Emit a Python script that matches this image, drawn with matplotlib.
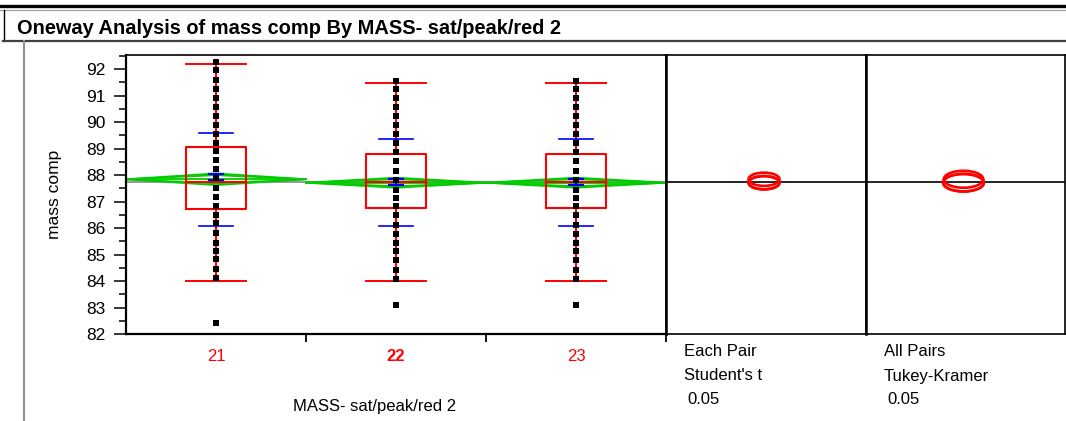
import numpy as np
import matplotlib
matplotlib.use("Agg")
import matplotlib.pyplot as plt
from matplotlib.patches import Ellipse
from matplotlib.lines import Line2D

plt.rcParams['font.family'] = ['Liberation Sans', 'DejaVu Sans']

# Data

GROUPS = ["21", "22", "23"]

pts_21 = [92.28, 91.96, 91.58, 91.23, 90.89, 90.58, 90.24, 89.89, 89.55, 89.20,
          88.92, 88.57, 88.21, 87.87, 87.50, 87.16, 86.84, 86.51, 86.18, 85.80,
          85.45, 85.14, 84.82, 84.45, 84.10, 82.40]
pts_22 = [91.56, 91.23, 90.92, 90.58, 90.23, 89.87, 89.54, 89.20, 88.88, 88.54,
          88.16, 87.81, 87.43, 87.12, 86.84, 86.48, 86.11, 85.77, 85.42, 85.13,
          84.79, 84.43, 84.08, 83.08]
pts_23 = [91.56, 91.23, 90.92, 90.58, 90.23, 89.87, 89.54, 89.20, 88.88, 88.54,
          88.16, 87.81, 87.43, 87.12, 86.84, 86.48, 86.11, 85.77, 85.42, 85.13,
          84.79, 84.43, 84.08, 83.08]

q1      = [86.73, 86.74, 86.74]
median  = [87.72, 87.72, 87.72]
q3      = [89.07, 88.78, 88.78]
wlo     = [84.00, 84.00, 84.00]
whi     = [92.18, 91.48, 91.48]

means   = [87.84, 87.71, 87.71]
ci_lo   = [87.62, 87.52, 87.52]
ci_hi   = [88.06, 87.90, 87.90]
sd_lo   = [86.08, 86.08, 86.08]
sd_hi   = [89.60, 89.37, 89.37]
se_lo   = [87.80, 87.62, 87.62]
se_hi   = [88.03, 87.85, 87.85]

GRAND_MEAN = 87.72

student_r = [0.25, 0.25, 0.25]
tukey_r   = [0.32, 0.33, 0.33]

# Layout helpers (pixels -> figure fraction)

W, H = 1066, 421

def fx(x):
    return x / W

def fy(y):
    return 1 - y / H

def rect(x0, y0, x1, y1):
    return [fx(x0), fy(y1), (x1 - x0) / W, (y1 - y0) / H]

RED, GREEN, BLUE = "#ff0000", "#00cc00", "#0000ff"

fig = plt.figure(figsize=(W / 100, H / 100), dpi=100)

# header decoration
fig.add_artist(Line2D([0, 1], [fy(5.8), fy(5.8)], color="black", lw=2.4))
fig.add_artist(Line2D([0, 1], [fy(9.8), fy(9.8)], color="#a0a0a0", lw=0.9))
fig.add_artist(Line2D([fx(3.5), fx(3.5)], [fy(10), fy(41)], color="black", lw=1.0))
fig.add_artist(Line2D([fx(3), 1], [fy(41), fy(41)], color="#404040", lw=1.6))
fig.add_artist(Line2D([fx(23.5), fx(23.5)], [fy(41), 0], color="#909090", lw=1.5))
fig.text(fx(17), fy(28.5), "Oneway Analysis of mass comp By MASS- sat/peak/red 2",
         fontsize=14.4, fontweight="bold", va="center", ha="left")

# main panel
ax = fig.add_axes(rect(126, 55, 666, 334))
ylim = (82, 92.53)

ax.axhline(GRAND_MEAN, color="#909090", lw=1.3, zorder=1)

all_pts = [pts_21, pts_22, pts_23]
for i in range(3):
    xc = i + 0.5
    # means diamond + overlap marks
    ax.plot([xc - 0.5, xc, xc + 0.5, xc, xc - 0.5],
            [means[i], ci_hi[i], means[i], ci_lo[i], means[i]],
            color=GREEN, lw=1.3, zorder=2)
    ov = (ci_hi[i] - ci_lo[i]) / 2 / np.sqrt(2)
    ax.plot([xc - 0.5, xc, xc + 0.5, xc, xc - 0.5],
            [means[i], means[i] + ov, means[i], means[i] - ov, means[i]],
            color=GREEN, lw=1.3, zorder=2)
    ax.plot([xc - 0.5, xc + 0.5], [means[i], means[i]], color=GREEN, lw=1.3, zorder=2)

    # box plot
    bw = 1 / 6
    ax.plot([xc - bw, xc + bw, xc + bw, xc - bw, xc - bw],
            [q1[i], q1[i], q3[i], q3[i], q1[i]], color=RED, lw=1.5, zorder=3)
    ax.plot([xc - bw, xc + bw], [median[i], median[i]], color=RED, lw=1.5, zorder=3)
    ax.plot([xc, xc], [wlo[i], q1[i]], color=RED, lw=1.6, zorder=3)
    ax.plot([xc, xc], [q3[i], whi[i]], color=RED, lw=1.6, zorder=3)
    ax.plot([xc - bw, xc + bw], [wlo[i], wlo[i]], color=RED, lw=1.4, zorder=3)
    ax.plot([xc - bw, xc + bw], [whi[i], whi[i]], color=RED, lw=1.4, zorder=3)

    # std dev lines and mean error bars
    sw = 0.096
    ax.plot([xc - sw, xc + sw], [sd_lo[i], sd_lo[i]], color=BLUE, lw=1.2, zorder=4)
    ax.plot([xc - sw, xc + sw], [sd_hi[i], sd_hi[i]], color=BLUE, lw=1.2, zorder=4)
    ew = 0.04
    ax.plot([xc - ew, xc + ew], [se_lo[i], se_lo[i]], color=BLUE, lw=1.6, zorder=4)
    ax.plot([xc - ew, xc + ew], [se_hi[i], se_hi[i]], color=BLUE, lw=1.6, zorder=4)
    ax.plot([xc, xc], [se_lo[i], se_hi[i]], color=BLUE, lw=1.6, zorder=4)

    # points
    ax.plot([xc] * len(all_pts[i]), all_pts[i], "s", color="black",
            ms=4.8, mew=0, zorder=5)

ax.set_xlim(0, 3)
ax.set_ylim(*ylim)
ax.set_yticks(range(82, 93))
ax.set_yticks(np.arange(82.5, 92.6, 1), minor=True)
ax.tick_params(axis="y", which="major", length=8.6, width=1.1, labelsize=12.5, pad=6)
ax.tick_params(axis="y", which="minor", length=5, width=1.1)

ax.set_xticks([1, 2, 3])
ax.set_xticklabels(["", "", ""])
ax.set_xticks([0.5, 1.5, 2.5], minor=True)
ax.set_xticklabels(GROUPS, minor=True)
ax.tick_params(axis="x", which="major", length=5.5, width=1.3)
ax.tick_params(axis="x", which="minor", length=0, labelsize=12,
               labelcolor=RED, pad=11)
ax.get_xticklabels(minor=True)[1].set_fontweight("bold")

ax.set_ylabel("mass comp", fontsize=12.5)
ax.yaxis.set_label_coords((62 - 126) / 540, 0.5)
ax.set_xlabel("MASS- sat/peak/red 2", fontsize=12)
ax.xaxis.set_label_coords((375 - 126) / 540, (334 - 406) / 279)
ax.xaxis.label.set_va("center")

for s in ["left", "bottom"]:
    ax.spines[s].set_linewidth(1.6)
ax.spines["top"].set_linewidth(1.2)
ax.spines["right"].set_linewidth(1.8)

# comparison circle panels
CIRCLE_ASPECT = 0.31
panels = [(666, 866, student_r, ["Each Pair", "Student's t", "0.05"], 684),
          (866, 1065, tukey_r, ["All Pairs", "Tukey-Kramer", "0.05"], 884)]
for x0, x1, radii, labels, tx in panels:
    cax = fig.add_axes(rect(x0, 55, x1, 334))
    cax.set_xlim(0, 1)
    cax.set_ylim(*ylim)
    cax.set_xticks([])
    cax.set_yticks([])
    cax.axhline(GRAND_MEAN, color="black", lw=1.2, zorder=1)
    for m, r in zip(means, radii):
        cax.add_patch(Ellipse((0.49, m), 2 * r * CIRCLE_ASPECT, 2 * r,
                              fill=False, edgecolor=RED, lw=1.9, zorder=2))
    for s in cax.spines.values():
        s.set_linewidth(1.2)
    cax.spines["left"].set_linewidth(1.8)
    fig.text(fx(tx), fy(351), labels[0], fontsize=12, va="center")
    fig.text(fx(tx), fy(376), labels[1], fontsize=12, va="center")
    fig.text(fx(tx + 3), fy(400), labels[2], fontsize=12, va="center")

fig.savefig("out.png", dpi=100)
